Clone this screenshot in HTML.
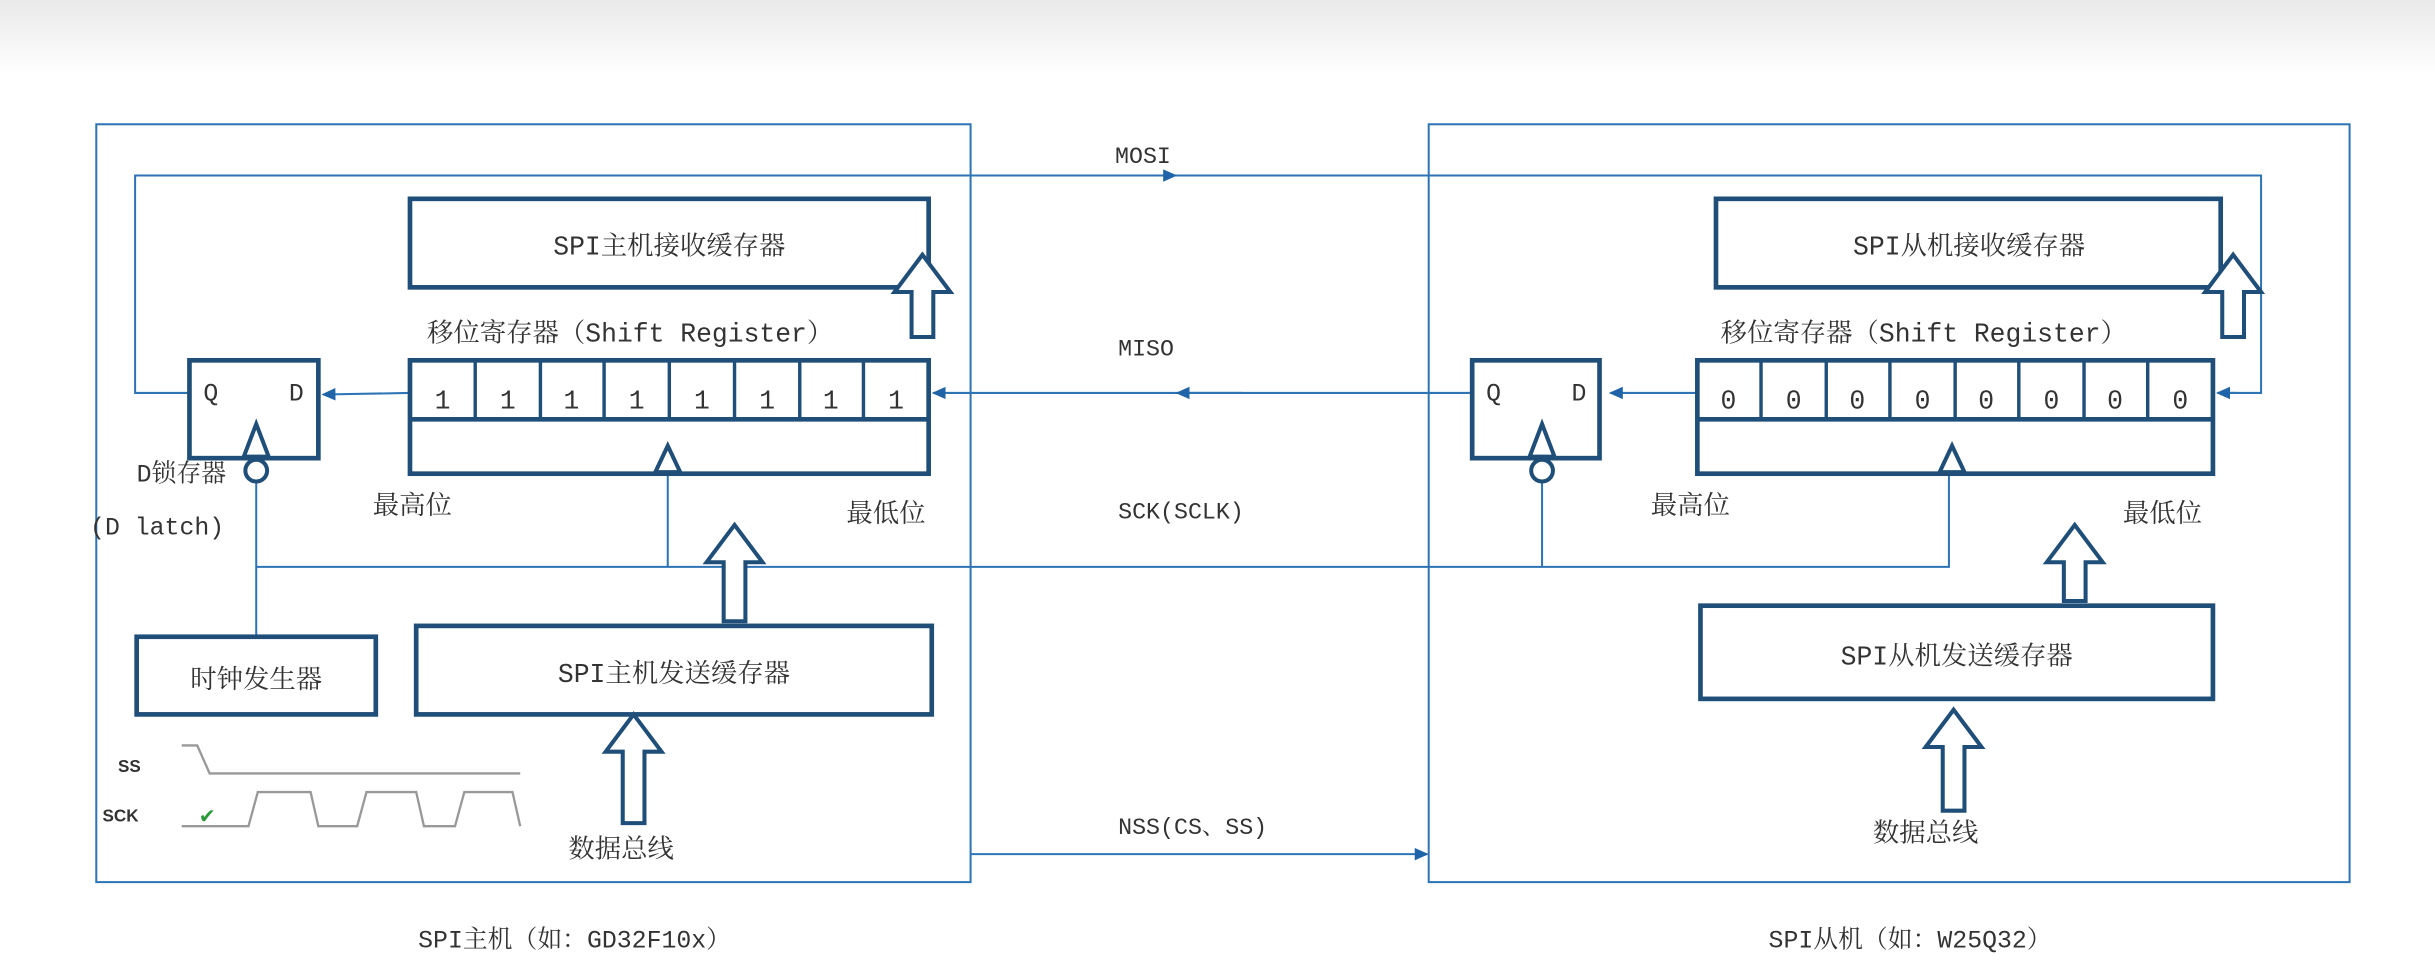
<!DOCTYPE html>
<html><head><meta charset="utf-8">
<style>
html,body{margin:0;padding:0;background:#fff;}
svg{display:block;}
text{font-family:"Liberation Mono","Noto Serif CJK SC",monospace;fill:#333;}
.c{text-anchor:middle;}
.thin{stroke:#2e74b5;stroke-width:1.3;fill:none;}
.box{stroke:#1f4e79;stroke-width:3;fill:#fff;}
.ha{stroke:#1f4e79;stroke-width:2.6;fill:#fff;stroke-linejoin:miter;}
</style></head>
<body>
<svg width="2435" height="980" viewBox="0 0 1568 631" xmlns="http://www.w3.org/2000/svg">
<defs>
<linearGradient id="g" x1="0" y1="0" x2="0" y2="1">
<stop offset="0" stop-color="#e9e9e9"/><stop offset="1" stop-color="#ffffff"/>
</linearGradient>
<marker id="ar" markerWidth="10" markerHeight="10" refX="8" refY="4" orient="auto" markerUnits="userSpaceOnUse">
<path d="M0,0 L9,4 L0,8 Z" fill="#1f63a8"/>
</marker>
</defs>
<rect x="0" y="0" width="1568" height="48" fill="url(#g)"/>

<rect x="62" y="80" width="563" height="488" class="thin"/>
<rect x="920" y="80" width="593" height="488" class="thin"/>

<polyline class="thin" points="122,253 87,253 87,113 1456,113 1456,253 1428,253"/>
<line class="thin" x1="640" y1="113" x2="757" y2="113" marker-end="url(#ar)"/>
<line class="thin" x1="1440" y1="253" x2="1428" y2="253" marker-end="url(#ar)"/>
<text x="718" y="105" font-size="15">MOSI</text>
<line class="thin" x1="948" y1="253" x2="601" y2="253" marker-end="url(#ar)"/>
<line class="thin" x1="800" y1="253" x2="758" y2="253" marker-end="url(#ar)"/>
<text x="720" y="229" font-size="15">MISO</text>
<line class="thin" x1="264" y1="253" x2="208" y2="254" marker-end="url(#ar)"/>
<line class="thin" x1="1093" y1="253" x2="1037" y2="253" marker-end="url(#ar)"/>
<polyline class="thin" points="165,410 165,310 165,365 1255,365 1255,305"/>
<line class="thin" x1="430" y1="305" x2="430" y2="365"/>
<line class="thin" x1="993" y1="310" x2="993" y2="365"/>
<text x="720" y="334" font-size="15">SCK(SCLK)</text>
<line class="thin" x1="625" y1="550" x2="919" y2="550" marker-end="url(#ar)"/>
<text x="720" y="537" font-size="15">NSS(CS、SS)</text>

<rect x="264" y="128" width="334" height="57" class="box"/>
<text x="431" y="164" font-size="17" class="c">SPI主机接收缓存器</text>
<text x="275" y="220" font-size="17">移位寄存器（Shift Register）</text>
<rect x="264" y="232" width="334" height="73" class="box"/>
<line x1="264" y1="270" x2="598" y2="270" stroke="#1f4e79" stroke-width="3"/>
<g stroke="#1f4e79" stroke-width="2.2">
<line x1="306" y1="232" x2="306" y2="270"/><line x1="348" y1="232" x2="348" y2="270"/>
<line x1="389" y1="232" x2="389" y2="270"/><line x1="431" y1="232" x2="431" y2="270"/>
<line x1="473" y1="232" x2="473" y2="270"/><line x1="515" y1="232" x2="515" y2="270"/>
<line x1="556" y1="232" x2="556" y2="270"/>
</g>
<g font-size="17">
<text x="285" y="263" class="c">1</text><text x="327" y="263" class="c">1</text><text x="368" y="263" class="c">1</text><text x="410" y="263" class="c">1</text>
<text x="452" y="263" class="c">1</text><text x="494" y="263" class="c">1</text><text x="535" y="263" class="c">1</text><text x="577" y="263" class="c">1</text>
</g>
<polygon points="430,287 422,304 438,304" class="ha" stroke-width="2"/>
<rect x="122" y="232" width="83" height="63" class="box"/>
<text x="131" y="258" font-size="16">Q</text><text x="186" y="258" font-size="16">D</text>
<polygon points="165,273 157,294 173,294" class="ha" stroke-width="2"/>
<circle cx="165" cy="303" r="7" class="ha" stroke-width="2"/>
<text x="88" y="310" font-size="16">D锁存器</text>
<text x="58" y="344" font-size="16">(D latch)</text>
<text x="240" y="331" font-size="17">最高位</text>
<text x="545" y="336" font-size="17">最低位</text>
<polygon class="ha" points="594,164 612,188 601,188 601,217 587,217 587,188 576,188"/>
<polygon class="ha" points="473,338 491,362 480,362 480,400 466,400 466,362 455,362"/>
<rect x="88" y="410" width="154" height="50" class="box"/>
<text x="165" y="443" font-size="17" class="c">时钟发生器</text>
<rect x="268" y="403" width="332" height="57" class="box"/>
<text x="434" y="439" font-size="17" class="c">SPI主机发送缓存器</text>
<polygon class="ha" points="408,460 426,484 415,484 415,530 401,530 401,484 390,484"/>
<text x="400" y="552" font-size="17" class="c">数据总线</text>
<text x="76" y="497" font-size="11" font-weight="bold" style="font-family:'Liberation Sans',sans-serif">SS</text>
<text x="66" y="529" font-size="11" font-weight="bold" style="font-family:'Liberation Sans',sans-serif">SCK</text>
<polyline fill="none" stroke="#999" stroke-width="1.5" points="117,480 127,480 135,498 335,498"/>
<polyline fill="none" stroke="#999" stroke-width="1.5" points="117,532 160,532 166,510 200,510 205,532 230,532 236,510 268,510 273,532 293,532 299,510 330,510 335,532"/>
<text x="128" y="530" font-size="13" style="fill:#2a9a3a;font-family:'DejaVu Sans',sans-serif">✔</text>

<rect x="1105" y="128" width="325" height="57" class="box"/>
<text x="1268" y="164" font-size="17" class="c">SPI从机接收缓存器</text>
<text x="1108" y="220" font-size="17">移位寄存器（Shift Register）</text>
<rect x="1093" y="232" width="332" height="73" class="box"/>
<line x1="1093" y1="270" x2="1425" y2="270" stroke="#1f4e79" stroke-width="3"/>
<g stroke="#1f4e79" stroke-width="2.2">
<line x1="1134" y1="232" x2="1134" y2="270"/><line x1="1176" y1="232" x2="1176" y2="270"/>
<line x1="1217" y1="232" x2="1217" y2="270"/><line x1="1259" y1="232" x2="1259" y2="270"/>
<line x1="1300" y1="232" x2="1300" y2="270"/><line x1="1342" y1="232" x2="1342" y2="270"/>
<line x1="1383" y1="232" x2="1383" y2="270"/>
</g>
<g font-size="17">
<text x="1113" y="263" class="c">0</text><text x="1155" y="263" class="c">0</text><text x="1196" y="263" class="c">0</text><text x="1238" y="263" class="c">0</text>
<text x="1279" y="263" class="c">0</text><text x="1321" y="263" class="c">0</text><text x="1362" y="263" class="c">0</text><text x="1404" y="263" class="c">0</text>
</g>
<polygon points="1257,287 1249,304 1265,304" class="ha" stroke-width="2"/>
<rect x="948" y="232" width="82" height="63" class="box"/>
<text x="957" y="258" font-size="16">Q</text><text x="1012" y="258" font-size="16">D</text>
<polygon points="993,273 985,294 1001,294" class="ha" stroke-width="2"/>
<circle cx="993" cy="303" r="7" class="ha" stroke-width="2"/>
<text x="1063" y="331" font-size="17">最高位</text>
<text x="1367" y="336" font-size="17">最低位</text>
<polygon class="ha" points="1438,164 1456,188 1445,188 1445,217 1431,217 1431,188 1420,188"/>
<polygon class="ha" points="1336,338 1354,362 1343,362 1343,387 1329,387 1329,362 1318,362"/>
<rect x="1095" y="390" width="330" height="60" class="box"/>
<text x="1260" y="428" font-size="17" class="c">SPI从机发送缓存器</text>
<polygon class="ha" points="1258,457 1276,481 1265,481 1265,522 1251,522 1251,481 1240,481"/>
<text x="1240" y="542" font-size="17" class="c">数据总线</text>

<text x="370" y="610" font-size="16" class="c">SPI主机（如：GD32F10x）</text>
<text x="1230" y="610" font-size="16" class="c">SPI从机（如：W25Q32）</text>
</svg>
</body></html>
